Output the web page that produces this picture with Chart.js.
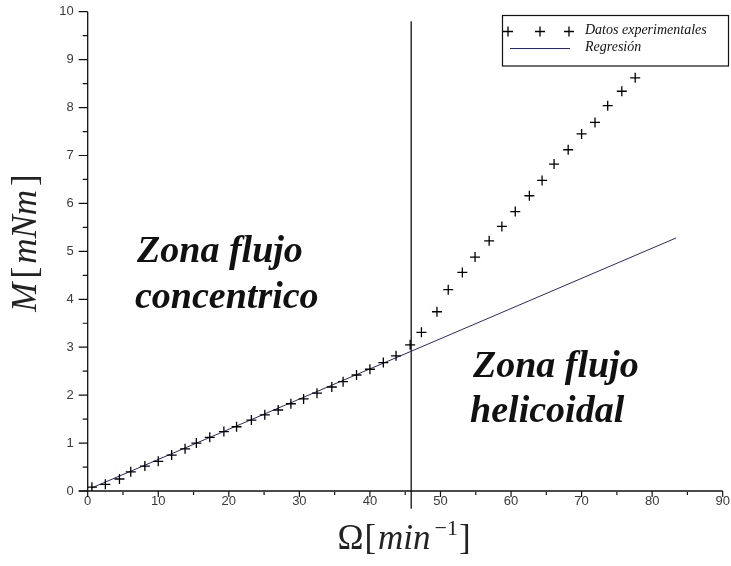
<!DOCTYPE html>
<html>
<head>
<meta charset="utf-8">
<script src="https://cdn.jsdelivr.net/npm/chart.js@4.4.1/dist/chart.umd.min.js"></script>
<style>
  html, body { margin: 0; padding: 0; background: #fff; }
  #wrap { width: 731px; height: 566px; }
</style>
</head>
<body>
<div id="wrap"><canvas id="c" width="731" height="566"></canvas></div>
<script>
// Rotational speed (min^-1) and measured torque (mNm)
const omega = [0.6, 2.5, 4.5, 6.1, 8.1, 10.0, 11.9, 13.8, 15.4, 17.3, 19.3, 21.1, 23.2, 25.1, 27.0,
  28.8, 30.6, 32.5, 34.6, 36.2, 38.1, 40.0, 41.9, 43.7, 45.7, 47.3, 49.5, 51.1, 53.1, 54.9,
  56.9, 58.7, 60.6, 62.6, 64.4, 66.1, 68.1, 70.0, 71.9, 73.7, 75.7, 77.6];
const torque = [0.08, 0.14, 0.25, 0.40, 0.52, 0.62, 0.75, 0.88, 1.00, 1.12, 1.24, 1.34, 1.48, 1.59, 1.69,
  1.82, 1.92, 2.04, 2.17, 2.28, 2.42, 2.54, 2.68, 2.82, 3.05, 3.31, 3.74, 4.20, 4.56, 4.88,
  5.22, 5.52, 5.83, 6.16, 6.48, 6.82, 7.12, 7.45, 7.69, 8.04, 8.34, 8.62];

// Linear regression over the concentric-flow range
const regOmega = [0.5, 83.4];
const regTorque = [0.06, 5.28];

// Boundary between flow regimes
const boundaryOmega = [45.85, 45.85];
const boundaryTorque = [-0.37, 9.8];

// Axis tick labels
const xTickLabels = [0, 10, 20, 30, 40, 50, 60, 70, 80, 90];
const yTickLabels = [0, 1, 2, 3, 4, 5, 6, 7, 8, 9, 10];

const seriesLabels = ['Datos experimentales', 'Regresión'];

// Region captions: [text, omega, torque] of each line's left baseline
const zoneCaptions = [
  ['Zona flujo', 7.0, 4.78],
  ['concentrico', 6.7, 3.82],
  ['Zona flujo', 54.6, 2.38],
  ['helicoidal', 54.2, 1.44]
];

const toPoints = (xs, ys) => xs.map((x, i) => ({ x: x, y: ys[i] }));

const TICK_FONT = { family: '"Liberation Sans", Arial, sans-serif', size: 13 };
const TICK_COLOR = '#3a3a3a';
const LINE_BLUE = '#27276e';
const SERIF = '"Liberation Serif", "Times New Roman", serif';

// Axis lines with major and minor tick marks
const axesPlugin = {
  id: 'axesLines',
  beforeDatasetsDraw(chart) {
    const { ctx, chartArea: a, scales: { x, y } } = chart;
    ctx.save();
    ctx.strokeStyle = '#111';
    ctx.lineWidth = 1.3;
    ctx.beginPath();
    ctx.moveTo(a.left, a.top);
    ctx.lineTo(a.left, a.bottom);
    ctx.moveTo(a.left - 9, a.bottom);
    ctx.lineTo(a.right, a.bottom);
    ctx.stroke();
    ctx.lineWidth = 1.2;
    ctx.beginPath();
    for (let v = 0; v <= 10.001; v += 0.5) {
      const py = y.getPixelForValue(v);
      const len = Math.abs(v - Math.round(v)) < 1e-6 ? 9 : 5;
      ctx.moveTo(a.left - len, py);
      ctx.lineTo(a.left, py);
    }
    for (let v = 0; v <= 90.001; v += 5) {
      const px = x.getPixelForValue(v);
      const major = v % 10 === 0;
      ctx.moveTo(px, a.bottom + (major ? 0 : 1));
      ctx.lineTo(px, a.bottom + (major ? 6 : 4));
    }
    ctx.stroke();
    ctx.restore();
  }
};

// Axis titles in math style
const titlesPlugin = {
  id: 'axisTitles',
  afterDraw(chart) {
    const { ctx } = chart;
    ctx.save();
    ctx.fillStyle = '#222';
    ctx.textBaseline = 'alphabetic';
    const up = '35px ' + SERIF;
    const it = 'italic 35px ' + SERIF;
    const sup = '22px ' + SERIF;
    // x title: Ω[min^-1]
    const parts = [['Ω', up, 0, 1], ['[', up, 0, 2], ['min', it, 0, 4], ['−1', sup, -14, 1], [']', up, 0, 0]];
    let total = 0;
    parts.forEach(p => { ctx.font = p[1]; total += ctx.measureText(p[0]).width + p[3]; });
    let cx = 404 - total / 2;
    const base = 549;
    parts.forEach(p => {
      ctx.font = p[1];
      ctx.fillText(p[0], cx, base + p[2]);
      cx += ctx.measureText(p[0]).width + p[3];
    });
    // y title: M[mNm]
    ctx.translate(36, 243);
    ctx.rotate(-Math.PI / 2);
    const yparts = [['M', it, 4], ['[', up, 3], ['mNm', it, 4], [']', up, 0]];
    let w = 0;
    yparts.forEach(p => { ctx.font = p[1]; w += ctx.measureText(p[0]).width + p[2]; });
    let tx = -w / 2;
    yparts.forEach(p => {
      ctx.font = p[1];
      ctx.fillText(p[0], tx, 0);
      tx += ctx.measureText(p[0]).width + p[2];
    });
    ctx.restore();
  }
};

// Region captions placed in data coordinates
const captionsPlugin = {
  id: 'zoneCaptions',
  afterDatasetsDraw(chart) {
    const { ctx, scales: { x, y } } = chart;
    ctx.save();
    ctx.fillStyle = '#111';
    ctx.font = 'italic bold 38px ' + SERIF;
    ctx.textBaseline = 'alphabetic';
    ctx.textAlign = 'left';
    zoneCaptions.forEach(([t, ox, oy]) => {
      ctx.fillText(t, x.getPixelForValue(ox), y.getPixelForValue(oy));
    });
    ctx.restore();
  }
};

// Boxed legend in the upper right corner
const legendPlugin = {
  id: 'boxLegend',
  afterDraw(chart) {
    const { ctx } = chart;
    const ds = chart.data.datasets;
    ctx.save();
    ctx.fillStyle = '#fff';
    ctx.fillRect(502, 15, 227, 51);
    ctx.strokeStyle = '#111';
    ctx.lineWidth = 1.2;
    ctx.strokeRect(502.5, 15.5, 226, 50.5);
    // marker row
    ctx.strokeStyle = '#000';
    ctx.lineWidth = 1.3;
    [508, 540, 569].forEach(px => {
      ctx.beginPath();
      ctx.moveTo(px - 5, 31.5); ctx.lineTo(px + 5, 31.5);
      ctx.moveTo(px, 26.5); ctx.lineTo(px, 36.5);
      ctx.stroke();
    });
    // line row
    ctx.strokeStyle = LINE_BLUE;
    ctx.lineWidth = 1;
    ctx.beginPath();
    ctx.moveTo(510, 48.5); ctx.lineTo(570, 48.5);
    ctx.stroke();
    ctx.fillStyle = '#111';
    ctx.font = 'italic 14px ' + SERIF;
    ctx.textBaseline = 'alphabetic';
    ctx.fillText(ds[0].label, 585, 34);
    ctx.fillText(ds[1].label, 585, 51);
    ctx.restore();
  }
};

new Chart(document.getElementById('c'), {
  type: 'scatter',
  data: {
    datasets: [
      {
        label: seriesLabels[0],
        data: toPoints(omega, torque),
        pointStyle: 'cross',
        pointRadius: 5,
        pointHoverRadius: 5,
        borderColor: '#000',
        backgroundColor: '#000',
        borderWidth: 1.3,
        showLine: false
      },
      {
        label: seriesLabels[1],
        data: toPoints(regOmega, regTorque),
        showLine: true,
        pointRadius: 0,
        borderColor: LINE_BLUE,
        borderWidth: 1,
        fill: false
      },
      {
        label: 'frontera',
        data: toPoints(boundaryOmega, boundaryTorque),
        showLine: true,
        pointRadius: 0,
        borderColor: '#111',
        borderWidth: 1.3,
        fill: false,
        clip: false
      }
    ]
  },
  options: {
    responsive: false,
    animation: false,
    devicePixelRatio: 1,
    layout: { padding: { top: 11.7, right: 8.3, left: 0, bottom: 0 } },
    plugins: {
      legend: { display: false },
      tooltip: { enabled: false },
      title: { display: false }
    },
    scales: {
      x: {
        type: 'linear',
        min: 0, max: 90,
        afterFit: s => { s.height = 75; s.paddingLeft = 0; s.paddingRight = 0; },
        afterBuildTicks: s => { s.ticks = xTickLabels.map(v => ({ value: v })); },
        grid: { display: false, drawTicks: false },
        border: { display: false },
        ticks: { font: TICK_FONT, color: TICK_COLOR, padding: 3, maxRotation: 0, autoSkip: false }
      },
      y: {
        type: 'linear',
        min: 0, max: 10,
        afterFit: s => { s.width = 87.7; s.paddingTop = 0; s.paddingBottom = 0; },
        afterBuildTicks: s => { s.ticks = yTickLabels.map(v => ({ value: v })); },
        grid: { display: false, drawTicks: false },
        border: { display: false },
        ticks: { font: TICK_FONT, color: TICK_COLOR, padding: 14, autoSkip: false }
      }
    }
  },
  plugins: [axesPlugin, captionsPlugin, legendPlugin, titlesPlugin]
});
</script>
</body>
</html>
